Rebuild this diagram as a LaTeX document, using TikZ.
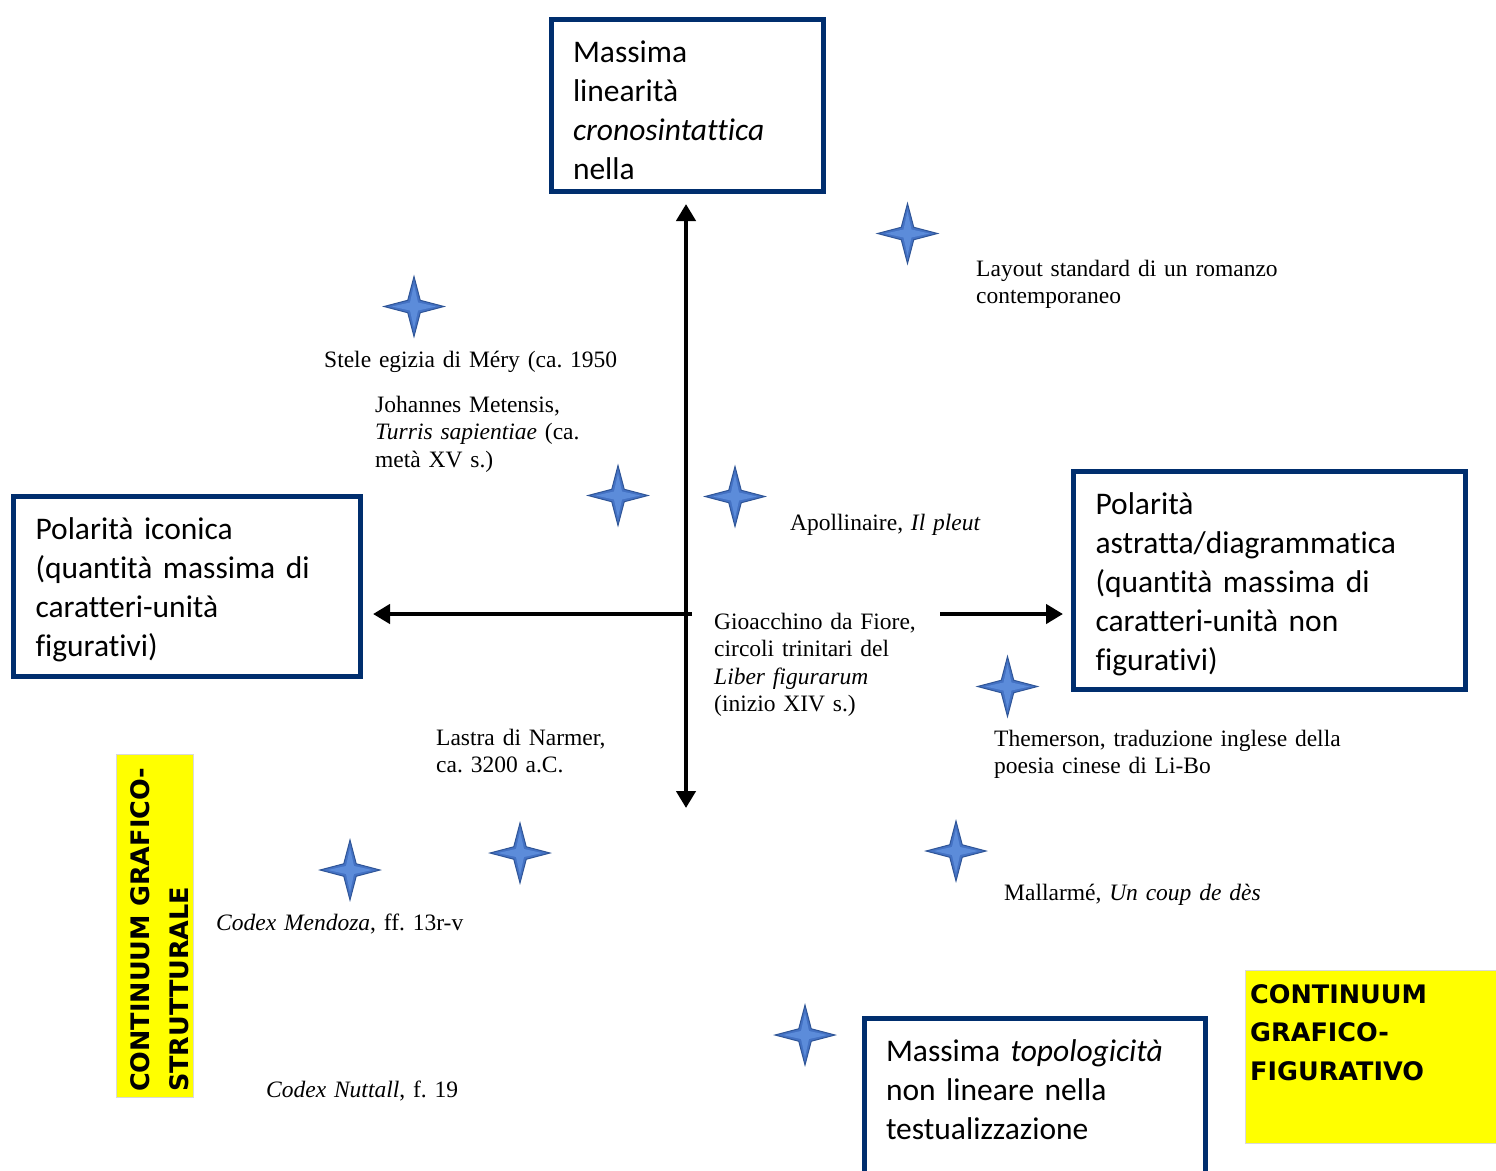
\documentclass[tikz,border=0pt]{standalone}
\usepackage{fontspec}
\setmainfont{Liberation Serif}
\newfontfamily\calib[Ligatures=NoCommon]{Carlito}
\newfontfamily\verd{DejaVu Sans}
\usetikzlibrary{shapes.geometric,arrows.meta}
\definecolor{navy}{RGB}{0,46,110}
\definecolor{starblue}{RGB}{68,114,196}
\definecolor{starlight}{RGB}{92,140,218}
\definecolor{stardark}{RGB}{47,85,151}
\definecolor{yel}{RGB}{255,255,0}
\frenchspacing
\begin{document}
\begin{tikzpicture}[x=1pt,y=-1pt,
 frame/.style={draw=navy, line width=5pt, rectangle, inner ysep=0pt, align=left, font=\fontsize{31.5}{39}\selectfont\calib},
 lbl/.style={inner sep=0pt, anchor=base west, align=left, text width=420pt, font=\fontsize{23.5}{27.5}\selectfont\frenchspacing},
 star4/.style={star, star points=4, star point ratio=3.4, minimum size=60pt, inner sep=0pt, fill=starblue, draw=stardark, line width=1pt},
 axis/.style={line width=4.5pt, -{Triangle[length=17pt,width=19pt]}},
 ybox/.style={fill=yel, draw=black!15, line width=0.6pt},
 ytext/.style={font=\fontsize{25.5}{38.5}\selectfont\verd\bfseries, align=left}
]
\useasboundingbox (0,0) rectangle (1496,1170);
\fill[white] (0,0) rectangle (1496,1170);

% frames
\node[frame, inner xsep=21.5pt, text width=229pt, text height=43.2pt, text depth=128.8pt] (top) at (687.5,105.5)
  {Massima\\linearità\\\textit{cronosintattica}\\nella};
\node[frame, inner xsep=22pt, text width=303pt, text height=42.5pt, text depth=137.5pt] (left) at (187,586.5)
  {Polarità iconica\\(quantità massima di\\caratteri-unità\\figurativi)};
\node[frame, inner xsep=22pt, text width=348pt, text height=42.5pt, text depth=175.5pt] (right) at (1269.5,580.5)
  {Polarità\\astratta/diagrammatica\\(quantità massima di\\caratteri-unità non\\figurativi)};
\node[frame, inner xsep=21.5pt, text width=298pt, text height=43.2pt, text depth=111.3pt] (bottom) at (1035,1095.75)
  {Massima \textit{topologicità}\\non lineare nella\\testualizzazione};

% yellow boxes
\node[ybox, minimum width=77pt, minimum height=343pt, inner sep=0pt] (yl) at (154.5,925.5) {};
\node[ytext, rotate=90, anchor=base west, inner sep=0pt, text width=340pt] (ylt) at (149.5,1092)
  {CONTINUUM GRAFICO-\\STRUTTURALE};
\node[ybox, minimum width=251pt, minimum height=173pt, inner sep=0pt] (yr) at (1370.5,1056.5) {};
\node[ytext, anchor=base west, inner sep=0pt, text width=240pt] (yrt) at (1250,1003.3)
  {CONTINUUM\\GRAFICO-\\FIGURATIVO};

% axes
\coordinate (o) at (686,614);
\coordinate (vb) at (686,808);
\coordinate (hs) at (692,614);
\coordinate (rs) at (940,614);
\draw[line width=4.5pt, {Triangle[length=17pt,width=19pt]}-{Triangle[length=17pt,width=19pt]}, shorten <=10pt] (top.south -| o) -- (vb);
\draw[axis, shorten >=10pt] (hs) -- (hs -| left.east);
\draw[axis, shorten >=8pt] (rs) -- (rs -| right.west);

% stars
\foreach \n/\p in {s1/{(907.5,233.5)}, s2/{(414,306.5)}, s3/{(618,495.5)}, s4/{(735,496.5)}, s5/{(1007.5,686.5)},
                   s6/{(350,870)}, s7/{(520,853)}, s8/{(956,851)}, s9/{(805,1035)}}{
  \node[star4] (\n) at \p {};
  \fill[starlight] (\n.center) ++(0,-22) -- ++(4,18) -- ++(18,4) -- ++(-18,4) -- ++(-4,18) -- ++(-4,-18) -- ++(-18,-4) -- ++(18,-4) -- cycle;
}

% labels
\node[lbl] (l1) at (976,276) {Layout standard di un romanzo\\contemporaneo};
\node[lbl] (l2) at (324,367) {Stele egizia di Méry (ca. 1950};
\node[lbl] (l3) at (375,412) {Johannes Metensis,\\\textit{Turris sapientiae} (ca.\\metà XV s.)};
\node[lbl] (l4) at (790,530) {Apollinaire, \textit{Il pleut}};
\node[lbl] (l5) at (714,629) {Gioacchino da Fiore,\\circoli trinitari del\\\textit{Liber figurarum}\\(inizio XIV s.)};
\node[lbl] (l6) at (994,746) {Themerson, traduzione inglese della\\poesia cinese di Li-Bo};
\node[lbl] (l7) at (436,745) {Lastra di Narmer,\\ca. 3200 a.C.};
\node[lbl] (l8) at (216,930) {\textit{Codex Mendoza}, ff. 13r-v};
\node[lbl] (l9) at (1004,900) {Mallarmé, \textit{Un coup de dès}};
\node[lbl] (l10) at (266,1097) {\textit{Codex Nuttall}, f. 19};
\end{tikzpicture}
\end{document}
